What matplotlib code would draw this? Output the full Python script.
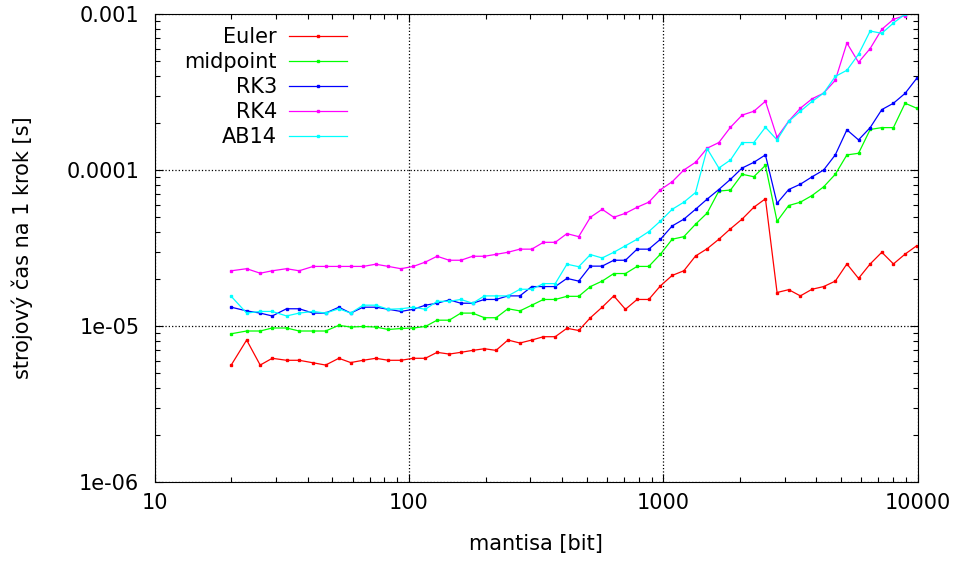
import matplotlib.pyplot as plt
from matplotlib.ticker import FuncFormatter, NullFormatter, LogLocator

# mantissa length in bits
mantisa = [20, 23, 26, 29, 33, 37, 42, 47, 53, 59,
           66, 74, 83, 93, 104, 116, 129, 144, 160, 178,
           198, 220, 245, 273, 304, 338, 376, 418, 465, 517,
           575, 639, 710, 789, 877, 975, 1084, 1205, 1339, 1488,
           1654, 1838, 2043, 2270, 2522, 2802, 3114, 3460, 3845, 4272,
           4747, 5274, 5860, 6511, 7234, 8038, 8931, 9923]

# CPU time per step [s]
euler = [5.62e-6, 8.13e-6, 5.62e-6, 6.21e-6, 6.03e-6, 6.03e-6, 5.81e-6, 5.62e-6, 6.21e-6, 5.83e-6,
         6.03e-6, 6.21e-6, 6.03e-6, 6.03e-6, 6.21e-6, 6.21e-6, 6.78e-6, 6.61e-6, 6.78e-6, 6.98e-6,
         7.15e-6, 6.98e-6, 8.13e-6, 7.78e-6, 8.13e-6, 8.54e-6, 8.54e-6, 9.67e-6, 9.36e-6, 1.13e-5,
         1.32e-5, 1.56e-5, 1.28e-5, 1.48e-5, 1.48e-5, 1.81e-5, 2.11e-5, 2.26e-5, 2.81e-5, 3.13e-5,
         3.60e-5, 4.20e-5, 4.85e-5, 5.77e-5, 6.54e-5, 1.64e-5, 1.71e-5, 1.56e-5, 1.72e-5, 1.79e-5,
         1.94e-5, 2.50e-5, 2.02e-5, 2.50e-5, 2.97e-5, 2.50e-5, 2.89e-5, 3.27e-5]

midpoint = [8.92e-6, 9.29e-6, 9.29e-6, 9.71e-6, 9.71e-6, 9.29e-6, 9.29e-6, 9.29e-6, 1.01e-5, 9.85e-6,
            9.93e-6, 9.85e-6, 9.50e-6, 9.64e-6, 9.71e-6, 9.93e-6, 1.09e-5, 1.09e-5, 1.21e-5, 1.21e-5,
            1.13e-5, 1.13e-5, 1.29e-5, 1.25e-5, 1.36e-5, 1.48e-5, 1.48e-5, 1.55e-5, 1.55e-5, 1.79e-5,
            1.94e-5, 2.17e-5, 2.17e-5, 2.41e-5, 2.41e-5, 2.89e-5, 3.60e-5, 3.74e-5, 4.49e-5, 5.30e-5,
            7.33e-5, 7.44e-5, 9.39e-5, 9.06e-5, 1.07e-4, 4.69e-5, 5.92e-5, 6.22e-5, 6.86e-5, 7.80e-5,
            9.39e-5, 1.25e-4, 1.28e-4, 1.82e-4, 1.87e-4, 1.87e-4, 2.68e-4, 2.49e-4]

rk3 = [1.32e-5, 1.25e-5, 1.21e-5, 1.16e-5, 1.29e-5, 1.29e-5, 1.21e-5, 1.21e-5, 1.32e-5, 1.21e-5,
       1.32e-5, 1.32e-5, 1.28e-5, 1.24e-5, 1.28e-5, 1.36e-5, 1.40e-5, 1.47e-5, 1.40e-5, 1.40e-5,
       1.48e-5, 1.48e-5, 1.56e-5, 1.56e-5, 1.79e-5, 1.79e-5, 1.79e-5, 2.02e-5, 1.94e-5, 2.42e-5,
       2.42e-5, 2.64e-5, 2.64e-5, 3.11e-5, 3.11e-5, 3.60e-5, 4.38e-5, 4.84e-5, 5.60e-5, 6.51e-5,
       7.50e-5, 8.72e-5, 1.03e-4, 1.12e-4, 1.25e-4, 6.12e-5, 7.50e-5, 8.11e-5, 9.04e-5, 1.00e-4,
       1.25e-4, 1.81e-4, 1.56e-4, 1.87e-4, 2.44e-4, 2.68e-4, 3.10e-4, 3.87e-4]

rk4 = [2.26e-5, 2.33e-5, 2.18e-5, 2.26e-5, 2.33e-5, 2.26e-5, 2.41e-5, 2.41e-5, 2.41e-5, 2.41e-5,
       2.41e-5, 2.49e-5, 2.41e-5, 2.33e-5, 2.41e-5, 2.57e-5, 2.80e-5, 2.64e-5, 2.64e-5, 2.80e-5,
       2.80e-5, 2.88e-5, 2.97e-5, 3.11e-5, 3.11e-5, 3.44e-5, 3.44e-5, 3.91e-5, 3.74e-5, 4.98e-5,
       5.60e-5, 4.98e-5, 5.28e-5, 5.77e-5, 6.22e-5, 7.48e-5, 8.41e-5, 1.00e-4, 1.12e-4, 1.38e-4,
       1.50e-4, 1.88e-4, 2.25e-4, 2.38e-4, 2.76e-4, 1.62e-4, 2.06e-4, 2.49e-4, 2.86e-4, 3.11e-4,
       3.76e-4, 6.52e-4, 4.90e-4, 6.01e-4, 7.98e-4, 9.25e-4, 9.78e-4, 1.06e-3]

ab14 = [1.55e-5, 1.21e-5, 1.24e-5, 1.24e-5, 1.16e-5, 1.21e-5, 1.24e-5, 1.21e-5, 1.29e-5, 1.21e-5,
        1.36e-5, 1.36e-5, 1.28e-5, 1.29e-5, 1.32e-5, 1.28e-5, 1.44e-5, 1.44e-5, 1.48e-5, 1.40e-5,
        1.56e-5, 1.56e-5, 1.56e-5, 1.72e-5, 1.72e-5, 1.87e-5, 1.87e-5, 2.49e-5, 2.40e-5, 2.87e-5,
        2.73e-5, 2.97e-5, 3.27e-5, 3.60e-5, 4.03e-5, 4.71e-5, 5.60e-5, 6.22e-5, 7.17e-5, 1.37e-4,
        1.03e-4, 1.16e-4, 1.50e-4, 1.50e-4, 1.88e-4, 1.56e-4, 2.05e-4, 2.38e-4, 2.75e-4, 3.11e-4,
        3.98e-4, 4.36e-4, 5.52e-4, 7.78e-4, 7.52e-4, 8.76e-4, 9.97e-4, 1.19e-3]

labels = ["Euler", "midpoint", "RK3", "RK4", "AB14"]
colors = ["#ff0000", "#00ff00", "#0000ff", "#ff00ff", "#00ffff"]

plt.rcParams['font.family'] = 'DejaVu Sans'
plt.rcParams['font.size'] = 15

fig = plt.figure(figsize=(9.6, 5.61), dpi=100)
ax = fig.add_axes([0.1611, 0.1408, 0.7947, 0.8342])

for values, color, label in zip([euler, midpoint, rk3, rk4, ab14], colors, labels):
    ax.plot(mantisa, values, color=color, lw=0.9, marker='s', ms=1.8, label=label)

ax.set_xscale('log')
ax.set_yscale('log')
ax.set_xlim(10, 10000)
ax.set_ylim(1e-6, 1e-3)

ax.xaxis.set_major_formatter(FuncFormatter(lambda v, p: '%g' % v))
ax.yaxis.set_major_formatter(FuncFormatter(lambda v, p: '%g' % v))
ax.xaxis.set_minor_locator(LogLocator(subs=range(2, 10)))
ax.yaxis.set_minor_locator(LogLocator(subs=range(2, 10)))
ax.xaxis.set_minor_formatter(NullFormatter())
ax.yaxis.set_minor_formatter(NullFormatter())

ax.tick_params(which='both', direction='in', top=True, right=True, width=0.8)
ax.tick_params(which='major', length=6)
ax.tick_params(which='minor', length=3.5)
ax.tick_params(axis='x', pad=8)
ax.tick_params(axis='y', pad=11)
ax.grid(True, which='major', color='black', linestyle=':', linewidth=0.9)

ax.set_xlabel("mantisa [bit]", labelpad=15)
ax.set_ylabel("strojový čas na 1 krok [s]", labelpad=24)

ax.legend(loc='upper left', bbox_to_anchor=(0.039, 0.972), frameon=False,
          markerfirst=False, handlelength=2.75, handletextpad=0.6,
          labelspacing=0.24, borderaxespad=0, borderpad=0)

plt.savefig("out.png", dpi=100)
